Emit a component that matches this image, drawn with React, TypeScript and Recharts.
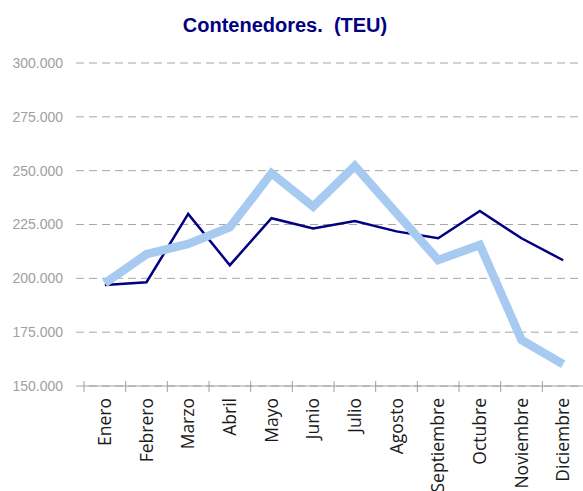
import React from "react";
import { CartesianGrid, Line, LineChart, XAxis, YAxis } from "recharts";

const months = [
  "Enero",
  "Febrero",
  "Marzo",
  "Abril",
  "Mayo",
  "Junio",
  "Julio",
  "Agosto",
  "Septiembre",
  "Octubre",
  "Noviembre",
  "Diciembre",
];

// navy series
const seriesA = [196900, 198200, 229900, 206100, 227900, 223200, 226600, 221800, 218600, 231300, 218600, 208400];
// light blue (thick) series
const seriesB = [197700, 211200, 216000, 223700, 248800, 233300, 252200, 230300, 208500, 215500, 171400, 160100];

const yTicks = [150000, 175000, 200000, 225000, 250000, 275000, 300000];

const data = months.map((m, i) => ({ month: m, a: seriesA[i], b: seriesB[i] }));

const formatThousands = (v: number) => `${Math.round(v / 1000)}.000`;

function MonthTick(props: any) {
  const { x, y, payload } = props;
  const half = payload?.offset ?? 0;
  return (
    <g>
      <line x1={x - half} x2={x - half} y1={y - 5} y2={y + 6} stroke="#a0a0a0" strokeWidth={1} />
      <text
        transform={`translate(${x}, ${y + 12}) rotate(-90)`}
        textAnchor="end"
        dy="0.36em"
        fontFamily="'Open Sans', sans-serif"
        fontSize={17.5}
        fill="#1a1a1a"
      >
        {payload.value}
      </text>
    </g>
  );
}

export default function App() {
  return (
    <div
      style={{
        position: "absolute",
        left: 0,
        top: 0,
        width: 583,
        height: 491,
        overflow: "hidden",
        background: "#fff",
      }}
    >
      <div
        style={{
          position: "absolute",
          left: 0,
          top: 15,
          width: 570,
          textAlign: "center",
          fontFamily: "'Liberation Sans', Arial, sans-serif",
          fontWeight: 700,
          fontSize: 20,
          lineHeight: "20px",
          color: "#000080",
          whiteSpace: "pre",
        }}
      >
        {"Contenedores.  (TEU)"}
      </div>
      <LineChart width={600} height={491} data={data} margin={{ top: 63, right: 16, bottom: 0, left: 0 }}>
        <CartesianGrid
          vertical={false}
          stroke="#a6a6a6"
          strokeDasharray="8 5"
          strokeDashoffset={8}
        />
        <XAxis
          dataKey="month"
          scale="band"
          height={105}
          axisLine={{ stroke: "#a0a0a0" }}
          tickLine={false}
          tickSize={0}
          tickMargin={0}
          interval={0}
          tick={<MonthTick />}
        />
        <YAxis
          width={84}
          domain={[150000, 300000]}
          ticks={yTicks}
          axisLine={false}
          tickLine={{ stroke: "#a6a6a6", strokeDasharray: "8 5" }}
          tickSize={8}
          tickMargin={13}
          tickFormatter={formatThousands}
          tick={{ fill: "#a0a0a0", fontSize: 14, fontFamily: "'Liberation Sans', Arial, sans-serif" }}
        />
        <Line
          type="linear"
          dataKey="a"
          stroke="#000080"
          strokeWidth={2.5}
          dot={false}
          isAnimationActive={false}
        />
        <Line
          type="linear"
          dataKey="b"
          stroke="#a6caf0"
          strokeWidth={8.5}
          dot={false}
          isAnimationActive={false}
        />
      </LineChart>
    </div>
  );
}
